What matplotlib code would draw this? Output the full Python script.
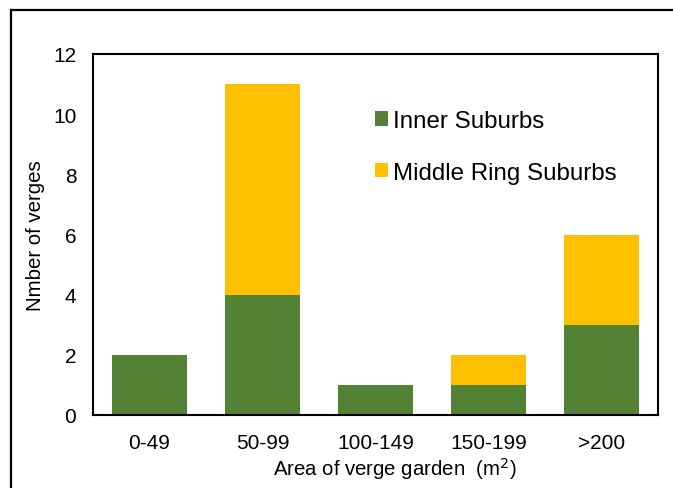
import matplotlib.pyplot as plt
from matplotlib.lines import Line2D
import numpy as np

plt.rcParams['font.family'] = ['Liberation Sans', 'DejaVu Sans']

categories = ['0-49', '50-99', '100-149', '150-199', '>200']
inner = [2, 4, 1, 1, 3]
middle = [0, 7, 0, 1, 3]

green = '#548235'
yellow = '#FFC000'

fig = plt.figure(figsize=(6.73, 4.89), dpi=100)
ax = fig.add_axes([93 / 673, 1 - 416 / 489, 565 / 673, 361 / 489])

x = np.arange(len(categories))
ax.bar(x, inner, width=0.66, color=green, label='Inner Suburbs')
ax.bar(x, middle, width=0.66, bottom=inner, color=yellow, label='Middle Ring Suburbs')

ax.set_xlim(-0.5, 4.5)
ax.set_ylim(0, 12)
ax.set_yticks(range(0, 13, 2))
ax.set_xticks(x)
ax.set_xticklabels(categories)
ax.tick_params(length=0, labelsize=15, colors='#000000')
ax.tick_params(axis='y', pad=12)
ax.tick_params(axis='x', pad=13)
for s in ax.spines.values():
    s.set_linewidth(1.5)
    s.set_color('black')

ax.set_ylabel('Nmber of verges', fontsize=14.7, labelpad=6)
ax.set_xlabel('Area of verge garden  (m$^2$)', fontsize=14.7)
ax.xaxis.set_label_coords(0.535, -0.112)

ax.legend(loc='upper left', bbox_to_anchor=(0.46, 0.905), frameon=False,
          fontsize=17.4, handlelength=0.54, handleheight=0.54,
          handletextpad=0.2, labelspacing=1.22)

# outer frame: only the top and left sides fall inside the image
fig.add_artist(Line2D([11 / 673, 1.0], [1 - 11 / 489, 1 - 11 / 489],
                      transform=fig.transFigure, color='black', lw=1.6))
fig.add_artist(Line2D([11 / 673, 11 / 673], [0.0, 1 - 11 / 489],
                      transform=fig.transFigure, color='black', lw=1.6))

fig.savefig('out.png', dpi=100)
